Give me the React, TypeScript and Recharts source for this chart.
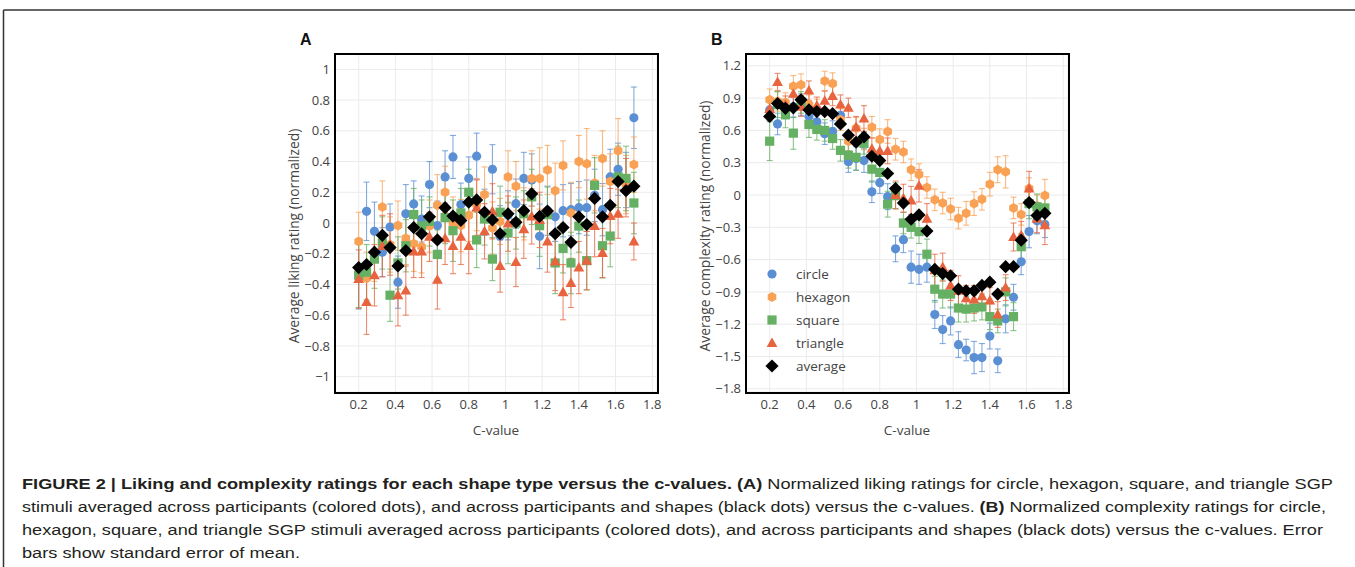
import React from "react";
import {
  ScatterChart,
  Scatter,
  XAxis,
  YAxis,
  CartesianGrid,
  ErrorBar,
} from "recharts";

// c-values shared by all series
const cValues = [
  0.2, 0.243, 0.286, 0.329, 0.371, 0.414, 0.457, 0.5, 0.543, 0.586, 0.629, 0.671,
  0.714, 0.757, 0.8, 0.843, 0.886, 0.929, 0.971, 1.014, 1.057, 1.1, 1.143, 1.186,
  1.229, 1.271, 1.314, 1.357, 1.4, 1.443, 1.486, 1.529, 1.571, 1.614, 1.657, 1.7,
];

// panel A: liking
const likeCircle = [-0.33, 0.076, -0.054, -0.19, -0.026, -0.385, 0.06, 0.124, 0.026, 0.25, -0.017, 0.3, 0.43, 0.12, 0.29, 0.435, 0.07, 0.35, -0.087, 0.05, 0.126, 0.29, 0.28, -0.087, 0.08, 0.04, 0.08, 0.087, 0.1, 0.1, 0.18, 0.087, 0.3, 0.35, 0.28, 0.685];
const likeCircleErr = [0.23, 0.19, 0.19, 0.16, 0.15, 0.17, 0.19, 0.15, 0.15, 0.15, 0.16, 0.17, 0.14, 0.14, 0.14, 0.15, 0.15, 0.16, 0.2, 0.16, 0.16, 0.17, 0.17, 0.21, 0.16, 0.16, 0.17, 0.17, 0.17, 0.18, 0.17, 0.17, 0.18, 0.17, 0.18, 0.2];
const likeHexagon = [-0.12, -0.36, -0.22, 0.104, -0.14, -0.017, -0.1, -0.135, -0.155, -0.02, 0.115, 0.2, 0.0, -0.017, 0.05, 0.12, 0.185, -0.033, 0.01, 0.3, 0.24, 0.06, 0.29, 0.29, 0.345, 0.21, 0.375, 0.065, 0.4, 0.385, 0.26, 0.42, 0.27, 0.47, 0.25, 0.38];
const likeHexagonErr = [0.19, 0.17, 0.16, 0.17, 0.18, 0.16, 0.17, 0.18, 0.17, 0.17, 0.2, 0.17, 0.17, 0.17, 0.17, 0.17, 0.18, 0.17, 0.15, 0.17, 0.16, 0.17, 0.18, 0.2, 0.16, 0.18, 0.16, 0.2, 0.17, 0.23, 0.18, 0.18, 0.18, 0.21, 0.19, 0.18];
const likeSquare = [-0.34, -0.32, -0.235, -0.13, -0.47, -0.26, -0.148, 0.055, -0.02, 0.01, -0.205, 0.035, -0.05, 0.065, 0.2, -0.11, 0.026, -0.235, 0.07, -0.065, 0.0, 0.06, 0.17, -0.017, 0.054, -0.26, -0.165, -0.26, -0.02, -0.245, 0.245, -0.148, -0.085, 0.3, 0.29, 0.13];
const likeSquareErr = [0.21, 0.18, 0.19, 0.17, 0.17, 0.17, 0.17, 0.17, 0.17, 0.16, 0.16, 0.17, 0.2, 0.16, 0.15, 0.18, 0.17, 0.14, 0.17, 0.2, 0.17, 0.15, 0.18, 0.2, 0.18, 0.2, 0.16, 0.2, 0.17, 0.19, 0.18, 0.21, 0.2, 0.2, 0.21, 0.2];
const likeTriangle = [-0.365, -0.515, -0.34, -0.15, -0.14, -0.47, -0.44, -0.185, -0.185, -0.09, -0.37, -0.1, -0.15, -0.09, -0.15, 0.1, -0.054, 0.076, -0.28, -0.004, -0.254, -0.04, 0.043, 0.02, -0.12, -0.25, -0.45, -0.39, -0.29, -0.245, -0.02, -0.195, 0.045, 0.06, 0.23, -0.12];
const likeTriangleErr = [0.19, 0.21, 0.2, 0.2, 0.2, 0.2, 0.16, 0.17, 0.17, 0.16, 0.19, 0.17, 0.18, 0.18, 0.18, 0.18, 0.18, 0.18, 0.17, 0.18, 0.16, 0.19, 0.18, 0.18, 0.2, 0.19, 0.18, 0.16, 0.17, 0.19, 0.2, 0.16, 0.18, 0.16, 0.19, 0.12];
const likeAverage = [-0.29, -0.27, -0.19, -0.08, -0.16, -0.28, -0.18, -0.03, -0.07, 0.04, -0.11, 0.1, 0.045, 0.017, 0.135, 0.15, 0.07, 0.02, -0.07, 0.06, 0.005, 0.08, 0.19, 0.043, 0.078, -0.07, -0.03, -0.126, 0.04, -0.01, 0.16, 0.04, 0.115, 0.27, 0.21, 0.24];

// panel B: complexity
const cplxCircle = [0.79, 0.66, 0.8, 0.82, 0.84, 0.73, 0.68, 0.57, 0.59, 0.74, 0.31, 0.34, 0.32, 0.03, 0.115, -0.015, -0.5, -0.415, -0.67, -0.69, -0.67, -1.11, -1.25, -1.17, -1.39, -1.44, -1.51, -1.51, -1.31, -1.54, -1.15, -0.95, -0.62, -0.34, -0.24, -0.275];
const cplxCircleErr = [0.1, 0.1, 0.09, 0.1, 0.1, 0.1, 0.1, 0.1, 0.1, 0.1, 0.1, 0.11, 0.11, 0.1, 0.1, 0.12, 0.12, 0.12, 0.15, 0.14, 0.14, 0.13, 0.13, 0.13, 0.12, 0.1, 0.15, 0.13, 0.12, 0.11, 0.13, 0.12, 0.12, 0.15, 0.12, 0.12];
const cplxHexagon = [0.885, 0.87, 0.86, 1.01, 1.025, 0.84, 0.8, 1.06, 1.035, 0.7, 0.5, 0.62, 0.52, 0.63, 0.515, 0.59, 0.425, 0.4, 0.235, 0.19, 0.07, -0.045, -0.075, -0.13, -0.215, -0.17, -0.08, -0.04, 0.1, 0.235, 0.215, -0.12, -0.18, 0.06, -0.1, -0.005];
const cplxHexagonErr = [0.1, 0.09, 0.09, 0.1, 0.1, 0.09, 0.09, 0.09, 0.1, 0.1, 0.09, 0.1, 0.1, 0.1, 0.1, 0.11, 0.1, 0.1, 0.1, 0.1, 0.1, 0.1, 0.1, 0.1, 0.1, 0.11, 0.11, 0.1, 0.11, 0.12, 0.15, 0.1, 0.1, 0.1, 0.1, 0.15];
const cplxSquare = [0.5, 0.84, 0.745, 0.575, 0.86, 0.655, 0.61, 0.6, 0.525, 0.415, 0.37, 0.35, 0.48, 0.24, 0.21, -0.085, -0.006, -0.26, -0.3, -0.34, -0.55, -0.875, -0.92, -0.92, -1.05, -1.06, -1.05, -1.04, -1.13, -1.17, -0.9, -1.13, -0.48, -0.08, -0.11, -0.12];
const cplxSquareErr = [0.18, 0.12, 0.12, 0.15, 0.1, 0.12, 0.1, 0.1, 0.1, 0.1, 0.12, 0.12, 0.1, 0.12, 0.12, 0.12, 0.12, 0.1, 0.1, 0.11, 0.14, 0.12, 0.13, 0.13, 0.13, 0.12, 0.12, 0.12, 0.12, 0.11, 0.13, 0.13, 0.12, 0.14, 0.12, 0.12];
const cplxTriangle = [0.8, 1.05, 0.84, 0.94, 0.82, 0.97, 0.83, 0.875, 0.92, 0.84, 0.81, 0.63, 0.71, 0.43, 0.41, 0.41, 0.0, -0.03, -0.05, 0.085, -0.22, -0.7, -0.67, -0.84, -0.89, -0.96, -0.97, -0.94, -0.98, -1.11, -0.86, -0.39, -0.375, 0.06, -0.22, -0.28];
const cplxTriangleErr = [0.1, 0.08, 0.08, 0.09, 0.09, 0.09, 0.08, 0.09, 0.09, 0.09, 0.09, 0.1, 0.12, 0.1, 0.12, 0.12, 0.13, 0.13, 0.13, 0.15, 0.14, 0.15, 0.13, 0.14, 0.14, 0.12, 0.13, 0.12, 0.12, 0.12, 0.12, 0.13, 0.13, 0.16, 0.13, 0.18];
const cplxAverage = [0.73, 0.85, 0.805, 0.81, 0.885, 0.79, 0.775, 0.775, 0.756, 0.66, 0.556, 0.49, 0.54, 0.36, 0.32, 0.2, 0.06, -0.075, -0.225, -0.185, -0.335, -0.69, -0.73, -0.75, -0.875, -0.89, -0.89, -0.84, -0.81, -0.92, -0.666, -0.666, -0.42, -0.07, -0.19, -0.17];

const xTicks = [0.2, 0.4, 0.6, 0.8, 1, 1.2, 1.4, 1.6, 1.8];
const likeTicks = [-1, -0.8, -0.6, -0.4, -0.2, 0, 0.2, 0.4, 0.6, 0.8, 1];
const cplxTicks = [-1.8, -1.5, -1.2, -0.9, -0.6, -0.3, 0, 0.3, 0.6, 0.9, 1.2];

const shapeNames = ["circle", "hexagon", "square", "triangle", "average"];

const COLORS: Record<string, string> = {
  circle: "#5b8fd3",
  hexagon: "#f9a155",
  square: "#65b063",
  triangle: "#e8643f",
  average: "#000000",
};

const TXT = "#444";
const FONT = "'Open Sans', sans-serif";

function marker(kind: string, cx: number, cy: number) {
  const fill = COLORS[kind];
  if (kind === "circle") return <circle cx={cx} cy={cy} r={4.6} fill={fill} />;
  if (kind === "hexagon") {
    const r = 5;
    const pts = [-90, -30, 30, 90, 150, 210]
      .map((a) => {
        const t = (a * Math.PI) / 180;
        return `${cx + r * Math.cos(t)},${cy + r * Math.sin(t)}`;
      })
      .join(" ");
    return <polygon points={pts} fill={fill} />;
  }
  if (kind === "square") return <rect x={cx - 4.6} y={cy - 4.6} width={9.2} height={9.2} fill={fill} />;
  if (kind === "triangle")
    return <polygon points={`${cx},${cy - 5.6} ${cx + 5.4},${cy + 4} ${cx - 5.4},${cy + 4}`} fill={fill} />;
  return <polygon points={`${cx},${cy - 6.6} ${cx + 6.6},${cy} ${cx},${cy + 6.6} ${cx - 6.6},${cy}`} fill={fill} />;
}

const fmtTick = (v: number) => {
  const r = Number(v.toFixed(1));
  return r < 0 ? `\u2212${Math.abs(r)}` : `${r}`;
};

const build = (vals: number[], errs?: number[]) =>
  cValues.map((c, i) => ({ c, v: vals[i], e: errs ? errs[i] : 0 }));

interface PanelProps {
  left: number;
  letter: string;
  yTitle: string;
  titleY: number;
  yDomain: [number, number];
  yTicks: number[];
  series: { kind: string; vals: number[]; errs?: number[] }[];
  legend?: boolean;
}

const CH_W = 400;
const CH_H = 400;
const TOP = 40;
const Y_W = 55;
const M = { top: 14, right: 23, bottom: 18, left: 0 };
const PLOT_W = CH_W - Y_W - M.left - M.right;
const PLOT_H = CH_H - M.top - M.bottom - 30;

function Panel({ left, letter, yTitle, titleY, yDomain, yTicks, series, legend }: PanelProps) {
  const plotL = left + M.left + Y_W;
  const plotT = TOP + M.top;
  return (
    <>
      <div
        style={{
          position: "absolute",
          left: plotL - 35,
          top: 31,
          fontFamily: "'Liberation Sans', Arial, sans-serif",
          fontWeight: 700,
          fontSize: 16,
          color: "#111",
        }}
      >
        {letter}
      </div>
      <div style={{ position: "absolute", left, top: TOP }}>
        <ScatterChart width={CH_W} height={CH_H} margin={M}>
          <CartesianGrid stroke="#ebebeb" strokeWidth={1} />
          <XAxis
            type="number"
            dataKey="c"
            domain={[0.071, 1.826]}
            ticks={xTicks}
            allowDataOverflow
            axisLine={false}
            tickLine={false}
            tickSize={0}
            tickMargin={8}
            height={30}
            tick={{ fontSize: 13, fill: TXT, fontFamily: FONT }}
            tickFormatter={fmtTick}
          />
          <YAxis
            type="number"
            dataKey="v"
            domain={yDomain}
            ticks={yTicks}
            allowDataOverflow
            axisLine={false}
            tickLine={false}
            tickSize={0}
            tickMargin={5}
            width={Y_W}
            tick={{ fontSize: 13, fill: TXT, fontFamily: FONT }}
            tickFormatter={fmtTick}
          />
          {series.map((s) => (
            <Scatter
              key={s.kind}
              data={build(s.vals, s.errs)}
              fill={COLORS[s.kind]}
              isAnimationActive={false}
              shape={(p: any) => marker(s.kind, p.cx ?? 0, p.cy ?? 0)}
            >
              {s.errs && (
                <ErrorBar
                  dataKey="e"
                  direction="y"
                  width={3}
                  stroke={COLORS[s.kind]}
                  strokeWidth={1.1}
                  strokeOpacity={0.75}
                />
              )}
            </Scatter>
          ))}
        </ScatterChart>
      </div>
      {/* plot frame */}
      <div
        style={{
          position: "absolute",
          left: plotL - 1.5,
          top: plotT - 1.5,
          width: PLOT_W + 3,
          height: PLOT_H + 3,
          border: "2.5px solid #000",
          boxSizing: "border-box",
          pointerEvents: "none",
        }}
      />
      <div
        style={{
          position: "absolute",
          left: plotL - 42,
          top: titleY,
          transform: "translate(-50%, -50%) rotate(-90deg)",
          whiteSpace: "nowrap",
          fontFamily: FONT,
          fontSize: 13.8,
          color: TXT,
        }}
      >
        {yTitle}
      </div>
      <div
        style={{
          position: "absolute",
          left: plotL + PLOT_W / 2,
          top: 430,
          transform: "translate(-50%, -50%)",
          whiteSpace: "nowrap",
          fontFamily: FONT,
          fontSize: 13.5,
          color: TXT,
        }}
      >
        C-value
      </div>
      {legend && (
        <div style={{ position: "absolute", left: plotL + 14, top: 262 }}>
          {shapeNames.map((k) => (
            <div key={k} style={{ display: "flex", alignItems: "center", height: 23.2 }}>
              <svg width={24} height={16}>
                {marker(k, 12, 8)}
              </svg>
              <span style={{ marginLeft: 12, fontFamily: FONT, fontSize: 13.5, color: TXT }}>{k}</span>
            </div>
          ))}
        </div>
      )}
    </>
  );
}

const captionLines: { parts: { t: string; b?: boolean }[]; len: number }[] = [
  {
    parts: [
      { t: "FIGURE 2 | Liking and complexity ratings for each shape type versus the c-values. (A)", b: true },
      { t: " Normalized liking ratings for circle, hexagon, square, and triangle SGP" },
    ],
    len: 1311,
  },
  {
    parts: [
      { t: "stimuli averaged across participants (colored dots), and across participants and shapes (black dots) versus the c-values. " },
      { t: "(B)", b: true },
      { t: " Normalized complexity ratings for circle," },
    ],
    len: 1304,
  },
  {
    parts: [
      { t: "hexagon, square, and triangle SGP stimuli averaged across participants (colored dots), and across participants and shapes (black dots) versus the c-values. Error" },
    ],
    len: 1301,
  },
  { parts: [{ t: "bars show standard error of mean." }], len: 278 },
];

export default function App() {
  return (
    <div
      style={{
        position: "absolute",
        left: 0,
        top: 0,
        width: 1355,
        height: 567,
        background: "#fff",
        overflow: "hidden",
      }}
    >
      <svg width={1355} height={567} style={{ position: "absolute", left: 0, top: 0 }}>
        <line x1={3.5} y1={10} x2={1355} y2={10} stroke="#333" strokeWidth={1.5} />
        <line x1={3.5} y1={10} x2={3.5} y2={567} stroke="#333" strokeWidth={1.5} />
        {captionLines.map((ln, i) => (
          <text
            key={i}
            x={22}
            y={489 + i * 23}
            textLength={ln.len}
            lengthAdjust="spacingAndGlyphs"
            fontFamily="'Liberation Sans', Arial, sans-serif"
            fontSize={15.5}
            fill="#231f20"
          >
            {ln.parts.map((p, j) => (
              <tspan key={j} fontWeight={p.b ? 700 : 400}>
                {p.t}
              </tspan>
            ))}
          </text>
        ))}
      </svg>
      <Panel
        left={280}
        letter="A"
        yTitle="Average liking rating (normalized)"
        titleY={236}
        yDomain={[-1.1, 1.1]}
        yTicks={likeTicks}
        series={[
          { kind: "circle", vals: likeCircle, errs: likeCircleErr },
          { kind: "hexagon", vals: likeHexagon, errs: likeHexagonErr },
          { kind: "square", vals: likeSquare, errs: likeSquareErr },
          { kind: "triangle", vals: likeTriangle, errs: likeTriangleErr },
          { kind: "average", vals: likeAverage },
        ]}
      />
      <Panel
        left={691}
        letter="B"
        yTitle="Average complexity rating (normalized)"
        titleY={226}
        yDomain={[-1.83, 1.31]}
        yTicks={cplxTicks}
        legend
        series={[
          { kind: "circle", vals: cplxCircle, errs: cplxCircleErr },
          { kind: "hexagon", vals: cplxHexagon, errs: cplxHexagonErr },
          { kind: "square", vals: cplxSquare, errs: cplxSquareErr },
          { kind: "triangle", vals: cplxTriangle, errs: cplxTriangleErr },
          { kind: "average", vals: cplxAverage },
        ]}
      />
    </div>
  );
}
